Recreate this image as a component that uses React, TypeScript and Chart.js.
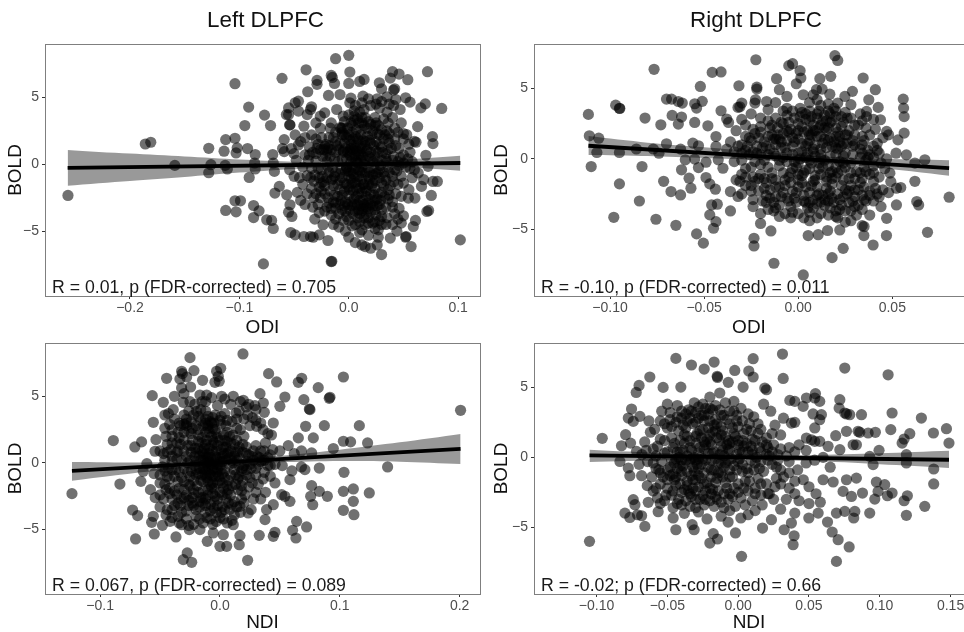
import React, { useEffect, useRef } from "react";
import { Chart, registerables } from "chart.js";

Chart.register(...registerables);

const leftOdiOuter: number[][] = [
[-.2567,-2.33],[-.186,1.52],[-.181,1.65],[-.159,-.08],[-.128,1.2],[-.126,-.03],[-.128,-.63],[-.114,.98],[-.1125,1.85],[-.113,-.08],[-.111,-.35],[-.104,6.03],[-.104,1.95],[-.102,1.23],[-.103,.85],[-.104,-2.73],[-.099,-2.73],[-.1125,-3.45],[-.103,-3.55],[-.0915,4.28],[-.095,2.9],[-.077,3.68],[-.0715,2.9],[-.0925,1.18],[-.0855,.73],[-.086,.1],[-.0855,-.35],[-.091,-.98],[-.087,-3.08],[-.082,-3.48],[-.087,-3.98],[-.075,-4.15],[-.0705,-4.2],[-.069,-4.8],[-.078,-7.45],[-.0695,.73],[-.069,.1],[-.068,-.53],[-.061,6.43],[-.0675,-2.15],[-.0635,-1.65],[-.0567,-2.28],[-.0537,-3.03],[-.055,-3.58],[-.052,-3.9],[-.053,-5.1],[-.049,-5.28],[-.059,1.85],[-.0605,1.18],[-.0537,2.95],[-.055,3.72],
[0,8.15],[-.012,7.9],[-.039,7.07],[.001,6.9],[-.016,6.65],[-.015,6.5],[.01,6.2],[.014,6.35],[-.013,6.05],[-.029,6.28],[-.029,5.98],[0,6.05],[.028,6.1],[.03,5.65],[.04,6.93],[.046,6.75],[.038,6.45],[.054,6.33],[.072,6.93],[-.0375,5.43],[-.0185,5.15],[-.008,5.22],[.042,5.65],[.041,5.55],[.002,4.95],[.013,5.1],[.026,4.9],[.035,5.05],[.043,4.85],[.052,4.98],[.056,4.65],[.066,4.22],[.07,4.52],[.085,4.18],[-.046,4.72],[-.049,4.6],[-.055,4.22],[-.046,3.98],[-.057,3.72],[-.034,4.3],[-.035,4.1],[-.038,3.72],[-.026,3.6],[-.022,3.85],[-.011,4.1],
[.063,2.82],[.0765,2.07],[.077,1.55],[.06,1.72],[.0615,1.65],[.053,2.22],[.0705,.68],[-.041,2.85],[-.054,2.95],[-.049,2.2],[-.0525,1.18],[-.059,.95],[-.046,1.45],[-.034,2.2],[-.026,2.7],[-.017,2.7],[-.006,2.7],
[.102,-5.65],[.0525,-5.4],[.052,-5.45],[.057,-6.15],[.03,-6.75],[.02,-6.28],[.015,-6.15],[.012,-6.03],[-.016,-7.28],[-.0155,-7.25],[-.019,-5.7],[-.027,-5.28],[-.0325,-5.45],[-.035,-5.4],[-.041,-5.4],[-.0235,-4.52],[-.031,-4.1],[0,-5.45],[.006,-5.85],[.026,-6.03],[.027,-5.45],[.038,-5.52],[.044,-5.0],[.059,-4.65],[.061,-4.2],[.05,-3.85],[.073,-3.45],[.0715,-3.53],[.077,-1.28],[.0665,-1.65],[.0605,-2.53],[.0545,-2.53],[.0755,-2.33],[.081,-1.28],[.0685,-1.15],[.0635,-.65],[.0725,-.15]
];
const leftOdiCore: number[][] = [
[-.045,-1.0],[-.038,-.85],[-.032,-1.25],[-.042,-.2],[-.03,.25],[-.04,.7],[-.036,1.3],[-.028,1.5],[-.022,1.35],[-.023,1.1],[-.018,1.4],[-.012,.9],[-.012,1.7],[-.006,2.2],[-.008,2.75],[-.004,1.6],[.001,1.0],[.004,1.9],[.003,2.9],[.008,3.4],[.012,2.6],[.015,1.7],[.017,1.1],[.011,.7],[.006,.3],[.003,-.2],[-.003,-.5],[.0,-.9],[-.008,-.7],[-.015,-.3],[-.02,.2],[-.025,-.4],[-.03,-2.2],[-.025,-2.0],[-.019,-2.5],[-.013,-2.3],[-.008,-3.0],[-.007,-2.7],[-.012,-3.3],[-.002,-1.5],[.004,-2.0],[.008,-1.3],[.012,-2.1],[.01,-2.7],[.016,-2.4],[.018,-1.5],[.022,-.8],[.024,-1.8],[.028,-1.0],[.03,.3],[.034,.8],[.036,1.1],[.03,1.3],[.025,1.7],[.022,2.5],[.027,2.9],[.032,3.4],[.035,2.5],[.042,2.7],[.048,3.1],[.042,1.9],[.046,1.2],[.05,.7],[.054,.4],[.058,.2],[.052,-.2],[.048,-.9],[.042,-.4],[.038,-1.6],[.043,-2.2],[.036,-2.6],[.03,-2.1],[.026,-3.1],[.02,-3.6],[.014,-4.0],[.009,-3.4],[.004,-3.7],[.0,-4.2],[-.005,-4.2],[-.012,-4.1],[-.016,-3.8],[.006,-4.5],[.015,-4.5],[.022,-4.4],[.028,-4.2],[.035,-4.0],[.042,-3.7],[.045,-4.1],[.01,-5.1],[.018,-5.3],[.027,-4.9],[.034,-4.5],[-.002,2.0],[.006,1.2],[.011,1.4],[.008,.1],[.014,.0],[.02,.4],[.018,-.3],[.01,-.5],[.005,-1.0],[-.002,.4],[-.005,.9],[-.01,.2],[-.017,.6],[-.02,-1.0],[-.027,-1.0],[-.032,-2.5],[-.038,-2.2],[-.042,-1.5],[-.028,-3.0],[-.02,-3.2],[.002,-2.8],[.005,-3.0],[.016,-3.2],[.024,-2.7],[.034,-1.2],[.04,.3],[.045,.2],[.018,3.2],[.014,4.1],[.006,4.4],[.001,4.6],[.02,4.4],[.028,4.2],[.035,3.9],[.041,4.4],[.047,4.1],[.024,3.5],[-.016,3.1],[-.03,3.1],
[-.021,1.5],[-.019,1.2],[-.02,1.0],[-.007,2.7],[-.006,2.4],[.0,2.2],[.002,1.5],[.005,1.4],[.007,1.0],[.009,1.8],[.012,1.2],[.015,1.4],[.013,.6],[.006,.7],[.002,.2],[.001,.7],[-.003,1.2],[-.006,.4],[-.009,1.1],[-.013,.4],[-.016,1.1],[-.024,.6],[-.03,.8],[-.034,-.3],[-.028,-.3],[-.024,-.9],[-.018,-.6],[-.013,-.9],[-.01,-1.5],[-.006,-1.0],[-.002,-.2],[.002,-.6],[.006,-.3],[.009,-.9],[.012,-.2],[.015,-.7],[.019,-1.1],[.023,-.3],[.026,.2],[.028,-.4],[.032,-.6],[.036,-.2],[.04,-.9],[.044,-.5],[.05,.1],[.056,-.3],[.035,.2],[.024,.6],[.02,.9],[.027,.9],[.032,1.9],[.037,1.6],[.02,1.6],[.017,2.1],[.011,2.2],[.007,2.6],[.002,3.1],[-.004,3.2],[-.012,2.4],[-.018,2.0],[-.025,2.0],[-.03,1.9],[.012,3.1],[.015,3.5],[.02,3.0],[.026,2.3],[.03,2.6],[.036,3.1],[.04,3.5],[.045,2.4],[.05,2.3],[.055,1.5],[.005,3.3],[.01,3.9],[.005,4.0],[.0,3.7],[-.005,3.6],[.012,4.6],[.018,4.9],[.025,4.5],[.03,4.7],[.037,4.5],[-.004,-2.0],[-.008,-1.9],[-.014,-1.6],[-.017,-2.0],[-.022,-1.6],[-.026,-2.5],[-.034,-1.8],[.0,-2.3],[.003,-1.4],[.007,-2.4],[.01,-1.8],[.014,-1.5],[.017,-2.9],[.02,-2.2],[.022,-1.4],[.027,-2.2],[.032,-1.6],[.036,-1.9],[.04,-2.8],[.045,-1.5],[.048,-2.4],[.05,-1.4],[.008,-3.0],[.012,-3.5],[.011,-3.1],[.006,-3.5],[.001,-3.4],[-.004,-3.1],[-.009,-3.7],[-.002,-3.9],[.018,-3.3],[.022,-3.1],[.025,-3.8],[.03,-3.4],[.034,-3.2],[.04,-3.2],[.046,-3.3],[.003,-4.6],[.01,-4.3],[.012,-4.9],[.018,-4.4],[.024,-4.8],[.03,-4.5],[.04,-4.5],[.048,-4.4],[-.009,-4.7],[-.003,-5.0],[-.014,-4.5],[-.022,-3.5],[-.027,-3.6],[-.033,-3.2],[-.04,-3.0],[-.044,-2.7],[-.047,-2.1],[-.05,-.9],[-.054,-.4],[-.048,.3],[-.05,.8],[-.044,1.7],[-.04,2.0],[-.037,.3],[.05,1.9],[.056,.9],[.06,-.4],[.058,-1.0],[.055,-1.9]
];
const leftOdiDense: number[][] = [
[.001,1.8],[.004,1.1],[.008,1.9],[.01,1.0],[.013,1.8],[.016,1.0],[.019,1.8],[.003,2.4],[.006,2.1],[-.001,2.7],[-.004,2.2],[-.008,1.6],[-.005,1.0],[-.001,.9],[.003,.5],[.007,.2],[.011,.3],[.015,.3],[.018,.6],[.022,.2],[.025,1.0],[.023,1.4],[.028,1.5],[.031,.9],[-.002,-.3],[.002,-1.1],[.006,-1.4],[.009,-.4],[.012,-1.1],[.015,-1.8],[.018,-.9],[.021,-1.6],[.024,-1.2],[.027,-.6],[.03,-1.4],[.033,-.9],[.037,-.6],[.041,-1.3],[-.004,-1.4],[-.008,-1.2],[-.012,-.6],[-.016,-1.2],[-.019,-.2],[-.023,-1.3],[-.027,-1.7],[-.031,-.8],[-.035,-1.0],[-.022,-2.2],[-.018,-2.9],[-.014,-2.8],[-.01,-2.4],[-.006,-2.3],[-.003,-2.8],[.001,-1.9],[.005,-2.6],[.009,-2.2],[.013,-2.7],[.016,-2.0],[.019,-2.6],[.023,-2.3],[.026,-2.6],[.029,-2.7],[.033,-2.4],[.037,-2.3],[.013,-3.3],[.016,-3.7],[.02,-3.0],[.024,-3.4],[.028,-3.0],[.003,-3.1],[-.001,-3.0],[-.006,-3.4],[-.012,-2.9],[-.016,-3.3],[.005,3.6],[.009,3.1],[.014,2.9],[.017,2.7],[.021,2.2],[.024,2.9],[.028,2.2],[.033,2.2],[.037,2.3],[.039,1.2],[.043,1.4],[.047,.5],[.046,-.1],[.041,.6],[.034,.4],[.029,-.1],[-.011,1.4],[-.014,2.0],[-.021,.6],[-.026,1.1],[-.029,1.2],[-.033,.9],[-.036,.7],[-.025,-1.4],[-.015,-1.1],[-.007,-.4],[.0,-.5],[.004,-.7],[.009,.7],[.002,1.2],[.012,-.6],[.019,-.6],[.025,-.7],[.013,-1.5],[.007,-1.8],[.0,-1.7],[.01,-3.7],[.014,-3.0],[-.003,-3.5],[.036,1.9],[.025,3.1],[.012,3.5],[.008,-4.0],[.018,-4.0],[.03,-3.9],[.024,-4.3]
];

const rightOdiOuter: number[][] = [
[-.1115,3.16],[-.111,1.64],[-.106,1.47],[-.107,.45],[-.11,-.55],[-.097,3.82],[-.095,3.6],[-.0948,3.58],[-.095,.45],[-.095,-1.78],[-.098,-4.16],[-.0814,2.9],[-.086,.7],[-.083,-.55],[-.0844,-3.0],[-.0766,6.37],[-.073,2.42],[-.077,.7],[-.074,.4],[-.07,1.07],[-.0715,-1.6],[-.0756,-4.3],[-.07,4.25],[-.0673,4.25],[-.067,3.09],[-.0637,4.08],[-.0616,3.97],[-.062,2.97],[-.0637,2.47],[-.0676,-2.33],[-.0625,-2.57],[-.065,-4.73],[-.0625,.69],[-.06,-.07],[-.062,-.78],[-.058,-1.38],[-.057,-2.09],[-.055,3.92],[-.054,3.61],[-.051,4.09],[-.052,5.15],[-.055,2.59],[-.048,2.35],[-.056,1.12],[-.053,.93],[-.055,-.02],[-.053,-.62],[-.049,-.24],[-.049,-1.33],[-.047,-1.78],[-.044,-2.16],[-.054,-5.34],[-.0504,-6.0],[-.0457,6.15],[-.041,6.18],[-.041,3.42],[-.038,2.83],[-.037,2.59],[-.0437,1.59],[-.0437,.88],[-.038,.69],[-.0425,-.07],[-.04,-.67],[-.036,-2.33],[-.032,-2.68],[-.043,-3.23],[-.046,-3.28],[-.047,-3.99],[-.0437,-4.47],[-.045,-4.94],[-.036,-3.71],[-.0315,5.2],[-.0225,7.05],[-.022,5.1],[-.022,4.96],[-.0227,4.2],[-.023,3.97],[-.0115,5.7],[-.01,4.92],[-.0168,4.08],[-.031,3.7],[-.03,3.97],[-.032,3.66],[-.005,6.63],[-.003,6.77],[.001,6.27],[.0014,5.75],[-.001,5.34],[-.006,4.44],[.0027,4.56],[.008,4.56],[.0115,5.7],[.0173,5.87],[.0345,5.75],[.0195,7.34],[.021,7.0],[.0097,4.92],[.0127,4.96],[.0168,4.6],[.021,3.97],[.0248,4.44],[.0288,4.8],[.028,3.85],[.041,4.92],[.0375,4.2],[.0425,3.66],[.0363,3.37],[.0437,2.78],[.0363,3.0],[.0558,4.25],[.056,3.61],[.0563,3.0],[.0563,1.83],[.047,1.95],[.048,1.71],[.053,1.35],[.052,.4],[.0575,.28],[.062,-.3],[.0673,-.07],[.062,-1.6],[.063,-3.04],[.064,-3.28],[.0687,-5.23],[.0802,-2.73],[.0487,-1.02],[.0492,-1.62],[.0522,-2.09],[.0545,-2.04],[.0522,-3.28],[.047,-4.23],[.0469,-5.46],[.0398,-6.13],[.0349,-5.46],[.034,-4.75],[.035,-4.82],[.0239,-6.37],[.018,-7.03],[.0221,-5.06],[.0156,-5.1],[.0106,-5.4],[.0053,-5.46],[.0027,-8.26],[-.0129,-7.43],[-.0145,-5.13],[-.0235,-5.65],[-.0235,-6.2],[-.02,-4.6]
];
const rightOdiCore: number[][] = [
[-.03,1.0],[-.028,1.6],[-.025,1.3],[-.022,.9],[-.023,1.8],[-.018,1.2],[-.014,1.7],[-.012,1.0],[-.015,.7],[-.011,1.7],[-.008,2.5],[-.012,2.9],[-.016,2.7],[-.004,2.1],[-.003,3.4],[-.006,3.6],[.001,3.0],[.003,1.9],[.006,1.3],[.004,.9],[.008,2.4],[.01,2.9],[.012,1.6],[.014,3.1],[.017,3.2],[.016,2.2],[.019,1.2],[.021,.7],[.021,1.9],[.024,2.6],[.026,1.1],[.029,.3],[.03,1.7],[.034,.4],[.037,.6],[.04,.9],[.04,.1],[.044,-.3],[.047,.0],[.035,-.6],[.031,-.9],[.027,-1.4],[.025,-.6],[.018,-.9],[.013,-.6],[.009,-1.2],[.004,-.8],[.0,-1.1],[-.003,-.7],[-.008,-1.0],[-.012,-1.5],[-.016,-.6],[-.02,-1.1],[-.023,-.2],[-.026,.3],[-.03,-.1],[-.034,.5],[-.033,-1.5],[-.031,-1.6],[-.025,-1.9],[-.023,-1.6],[-.021,-2.3],[-.015,-2.2],[-.012,-2.7],[-.007,-1.9],[-.003,-2.3],[.002,-1.7],[.006,-2.4],[.01,-2.0],[.013,-2.6],[.018,-1.8],[.021,-2.5],[.025,-2.2],[.03,-2.7],[.034,-1.4],[.038,-2.3],[.04,-1.6],[.043,-2.7],[.036,-3.0],[.032,-3.3],[.027,-3.1],[.023,-3.3],[.02,-3.7],[.016,-3.0],[.01,-3.2],[.005,-3.5],[-.001,-3.1],[-.004,-3.4],[-.007,-3.9],[-.004,-4.2],[-.01,-4.1],[-.013,-3.7],[-.017,-3.1],[-.02,-3.9],[-.024,-3.4],[.003,-4.2],[.006,-4.4],[.01,-4.2],[.016,-4.0],[.021,-4.2],[.025,-4.5],[.028,-4.4],[.031,-4.0],[.034,-3.6],[.038,-4.0],[.044,-3.4],[.012,-3.9],[.0,-.3],[.006,-.1],[.012,.3],[.017,.2],[.022,-.2],[-.006,.4],[-.01,-.1],[-.016,.3],[.002,.5],[.025,3.3],[.03,2.4],[.034,2.7],[.038,1.7],[.041,2.1],[.045,1.5],[.027,2.0],[.019,3.6],[.012,3.8],[.006,3.4],[-.012,4.0],[-.006,3.1],[-.02,2.9],[-.025,3.2],[-.028,2.4],[-.033,2.0],[-.036,1.2],[-.03,2.8],
[-.013,1.4],[-.016,1.6],[-.019,.8],[-.009,.8],[-.006,1.3],[-.003,.9],[-.005,1.9],[.0,1.4],[.002,2.3],[.005,2.0],[.007,1.7],[.009,1.0],[.011,2.2],[.013,1.1],[.015,.8],[.017,1.5],[.018,2.7],[.02,1.6],[.022,1.2],[.023,.9],[.025,1.7],[.013,2.7],[.015,2.0],[.009,2.0],[.006,2.7],[.0,2.5],[-.002,1.2],[-.027,.9],[-.024,.5],[-.03,.4],[-.02,.3],[-.013,.4],[-.008,.1],[-.003,.3],[.001,.0],[.005,.4],[.009,.2],[.014,-.1],[.02,.3],[.024,.2],[.028,-.3],[.033,.1],[.036,-.1],[.04,-.5],[.043,.4],[-.025,-.6],[-.02,-.4],[-.014,-1.0],[-.01,-.5],[-.005,-1.3],[-.001,-.6],[.002,-1.2],[.006,-.7],[.011,-.7],[.015,-1.3],[.02,-1.3],[.023,-.8],[.028,-1.0],[.033,-1.0],[.038,-1.1],[.043,-1.3],[.046,-.7],[-.028,-1.3],[-.024,-1.3],[-.017,-1.7],[-.012,-2.0],[-.008,-2.4],[-.004,-1.7],[0,-2.0],[.004,-2.0],[.008,-1.6],[.011,-2.5],[.015,-1.6],[.017,-2.3],[.023,-1.9],[.028,-1.9],[.032,-2.2],[.035,-2.0],[.041,-2.1],[.045,-2.2],[.048,-2.4],[-.017,-2.6],[-.013,-3.1],[-.006,-2.8],[-.002,-2.8],[.003,-2.6],[.008,-2.9],[.012,-3.1],[.018,-2.8],[.024,-2.7],[.029,-3.0],[.034,-2.6],[.04,-3.0],[.006,-3.8],[.014,-3.3],[.022,-3.6],[.028,-3.7],[-.01,-3.3],[-.016,-3.6],[.0,-3.9],[.004,-3.1],[.016,-2.5],[-.006,2.0],[-.009,1.2],[-.011,2.2],[-.015,2.2],[-.02,2.3],[-.024,2.1],[.004,3.2],[.007,3.0],[.011,3.4],[.016,3.4],[.02,3.0],[.023,3.0],[.028,2.9],[.034,1.6],[.036,2.2],[.04,2.8],[.033,3.2],[.03,1.0],[.034,1.0],[.038,.3],[.042,1.1],[.01,4.2],[.016,3.9],[.006,4.0],[.001,3.6],[-.008,3.4],[-.016,3.5]
];
const rightOdiDense: number[][] = [
[-.026,1.5],[-.021,1.5],[-.017,.9],[-.01,1.4],[-.007,.8],[-.001,1.8],[.002,1.1],[.006,1.7],[.008,.7],[.01,1.6],[.012,.7],[.014,2.2],[.016,1.3],[.018,.9],[.02,2.2],[.022,1.6],[.024,1.1],[.02,.8],[.017,2.6],[.012,2.4],[.008,2.0],[.004,2.8],[-.002,2.9],[-.005,2.6],[-.009,2.6],[-.014,2.4],[-.02,1.9],[-.004,-1.0],[.0,-1.5],[.003,-1.0],[.007,-1.9],[.009,-1.5],[.012,-1.1],[.015,-2.1],[.018,-1.4],[.021,-1.0],[.024,-1.5],[.027,-2.3],[.03,-1.4],[.033,-1.7],[.036,-.9],[.04,-1.0],[-.007,-1.5],[-.01,-2.0],[-.014,-1.4],[-.018,-2.1],[-.021,-1.4],[-.025,-2.3],[-.028,-1.9],[-.03,-2.5],[-.024,-2.9],[-.019,-3.0],[-.015,-2.8],[-.009,-2.7],[-.005,-3.0],[-.001,-2.4],[.003,-3.0],[.006,-3.1],[.01,-2.6],[.014,-2.9],[.019,-3.1],[.022,-2.9],[.026,-2.5],[.03,-2.2],[.035,-2.9],[.038,-2.6],[.042,-2.5],[.017,-3.5],[.008,-3.5],[.02,-4.1],[.025,-3.7],[.03,-3.4],[-.003,-3.8],[-.012,-3.5],[.0,.4],[.004,.1],[.008,.5],[.012,.0],[.016,-.5],[.02,-.6],[.025,.4],[.029,.9],[.033,.7],[.037,.1],[.042,.6],[-.002,-.2],[-.006,-.2],[-.012,.2],[-.018,-.1],[-.022,.4],[-.028,.6],[-.034,-.2],[-.032,.9],[-.028,-.7],[-.03,-1.1],[-.018,-1.4],[.026,1.7],[.029,1.3],[.032,2.4],[.035,1.3],[.023,2.3],[.026,2.9],[.014,1.4],[.005,1.1],[.0,2.0],[.01,3.2],[.015,2.7],[.02,3.4],[.002,3.3],[-.003,1.5],[-.008,1.8],[-.012,1.4],[.007,-.3],[.011,-.3],[.017,-1.0],[.024,-.3]
];

const leftNdiOuter: number[][] = [
[-.1235,-2.3],[-.089,1.68],[-.0835,-1.58],[-.071,1.2],[-.0654,1.58],[-.0729,-3.53],[-.0687,-3.95],[-.0704,-5.7],[-.066,-1.38],[-.064,-.63],[-.061,-.05],[-.0556,-4.0],[-.057,-4.45],[-.048,-4.68],[-.0548,-5.33],[-.0367,-5.55],[-.0565,5.05],[-.0473,4.55],[-.0556,3.05],[-.0542,.88],[-.0534,1.75],[-.0445,6.35],[-.032,6.88],[-.0314,6.7],[-.0334,6.3],[-.0278,6.45],[-.032,5.63],[-.0245,5.7],[-.0217,6.93],[-.025,7.9],[-.0145,6.2],[-.0028,6.88],[.0006,7.1],[-.0014,6.5],[-.0006,6.13],[-.0042,6.05],[.0192,8.18],[.0406,6.7],[.0473,6.08],[.0654,6.05],[.0682,6.35],[.082,5.65],[.0918,4.93],[.0912,4.85],[.103,6.45],[.0334,5.2],[.0542,4.95],[.07,4.75],[.0746,4.05],[.0751,4.0],[.1163,2.8],[.103,1.63],[.109,1.58],[.1232,1.5],[.0946,1.08],[.0871,2.8],[.0715,2.75],[.0779,1.88],[.0654,1.88],[.2008,3.95],[.1399,-.3],[.1035,-.7],[.103,-2.13],[.1113,-1.95],[.1246,-2.25],[.1113,-2.88],[.103,-3.55],[.1118,-3.88],[.0896,-2.5],[.0829,-2.13],[.0765,-1.7],[.0757,-2.5],[.0774,-3.13],[.0829,-.38],[.0709,-.5],[.0765,.75],[.064,-4.38],[.0723,-4.8],[.0606,-5.05],[.0634,-5.63],[.0459,-5.2],[.0445,-5.5],[.0376,-4.25],[.0328,-5.43],[.0515,-2.38],[.0542,-2.5],[.0584,-2.88],[.0445,-3.13],[.0389,-3.5],[.0584,-1.25],[.0459,-1.5],[.0231,-7.3],[.0161,-6.13],[.0167,-5.45],[.0056,-6.25],[0,-6.25],[-.0106,-5.88],[.0028,-5.38],[-.0056,-5.25],[-.0236,-7.45],[-.0306,-7.25],[-.0273,-6.75],[-.0167,-5],[-.0256,-5],[-.032,-4.63],[-.0417,-4.38],[.0111,-4.63],[.0236,-3.75],[.0167,-3.25]
];
const leftNdiCore: number[][] = [
[-.0167,5.1],[-.0111,5.1],[.0014,5.0],[.0111,5.0],[.0195,4.7],[.0292,4.3],[.0362,4.5],[.05,4.25],[.0445,3.0],[.0306,2.75],[.0134,3.75],[-.0195,3.88],[-.039,4.0],[-.0306,4.55],[-.046,3.6],[-.042,2.9],[-.038,3.3],[-.03,3.6],[-.024,3.1],[-.018,3.5],[-.012,3.9],[-.006,3.4],[-.002,4.3],[.004,3.7],[.009,4.4],[.016,3.9],[.023,3.6],[.03,4.0],[.037,3.8],[-.01,2.8],[-.004,2.5],[.001,2.9],[.006,2.3],[.014,2.6],[.02,2.0],[.03,1.3],[.038,1.5],[.044,1.0],[.05,.9],[.057,1.3],[.062,.7],[.068,.9],[-.045,2.0],[-.04,1.5],[-.035,2.3],[-.03,1.7],[-.024,2.2],[-.018,1.6],[-.012,2.3],[-.007,1.3],[-.002,1.9],[.003,1.2],[.009,1.5],[.015,.9],[.022,1.2],[.027,.5],[.034,.9],[.04,.4],[.046,-.1],[.052,-.2],[.06,-.6],[.068,-.3],[-.05,.9],[-.046,.2],[-.041,1.0],[-.036,.3],[-.03,.9],[-.025,.2],[-.02,.8],[-.014,.2],[-.009,.7],[-.004,.1],[.002,.5],[.008,-.1],[.014,.2],[.02,-.2],[.026,-.4],[.032,-.1],[.037,-.7],[-.055,-.8],[-.05,-1.5],[-.046,-.6],[-.042,-1.2],[-.037,-.5],[-.032,-1.1],[-.027,-.7],[-.022,-1.3],[-.017,-.4],[-.012,-.9],[-.006,-.5],[-.01,-1.4],[-.004,-1.0],[.002,-.8],[.007,-1.3],[.013,-.9],[.019,-1.3],[.025,-1.1],[.032,-1.6],[.038,-2.2],[-.058,-2.0],[-.05,-2.4],[-.045,-2.0],[-.04,-2.7],[-.034,-1.9],[-.028,-2.4],[-.022,-2.0],[-.016,-2.6],[-.01,-2.0],[-.004,-2.5],[.003,-1.9],[.009,-2.4],[.015,-2.0],[.021,-2.4],[.028,-2.7],[-.05,-3.3],[-.044,-3.5],[-.038,-3.2],[-.032,-3.7],[-.026,-3.2],[-.02,-3.5],[-.014,-3.0],[-.008,-3.6],[-.002,-3.2],[.004,-3.5],[.01,-3.1],[.017,-3.7],[-.04,-4.1],[-.034,-4.5],[-.028,-4.2],[-.022,-4.6],[-.017,-4.2],[-.011,-4.1],[-.006,-4.6],[0,-4.1],[.006,-4.5],[-.012,3.0],[-.02,2.8],[-.028,2.8],[-.015,.9],[-.008,-.1],[-.012,.4],[-.005,-.4],[-.015,-.9],[.025,2.8],[.012,1.4],[.018,-.6],[-.03,5.2],[-.025,4.6],[-.015,4.6],[-.038,5.0],
[-.034,1.9],[-.03,2.3],[-.027,1.3],[-.023,1.7],[-.021,1.1],[-.018,2.1],[-.015,1.5],[-.013,1.1],[-.011,1.7],[-.009,2.3],[-.007,2.0],[-.005,1.5],[-.003,.9],[-.002,1.3],[.001,1.0],[.004,1.7],[.006,.7],[.009,.9],[.012,.5],[.016,.4],[.019,.8],[.024,.6],[.028,.9],[.033,.4],[.037,.9],[.042,.6],[-.044,.8],[-.04,.1],[-.035,.9],[-.032,.2],[-.028,.5],[-.024,.8],[-.02,.1],[-.017,.5],[-.014,.7],[-.011,.0],[-.008,.4],[-.006,.9],[-.003,.4],[.0,.1],[.003,.7],[.005,.2],[.008,.4],[.011,.0],[.016,-.2],[.023,.1],[.03,-.4],[.035,.2],[.042,-.2],[-.048,-.3],[-.044,-1.0],[-.04,-.5],[-.035,-1.4],[-.03,-.4],[-.025,-1.0],[-.02,-.5],[-.016,-1.3],[-.013,-.5],[-.01,-.3],[-.008,-.9],[-.006,-1.5],[-.002,-.5],[.0,-1.3],[.004,-.6],[.006,-1.7],[.009,-.9],[.012,-.5],[.015,-1.2],[.018,-1.7],[.022,-.9],[.027,-1.5],[.03,-.9],[.036,-1.2],[.042,-1.0],[-.054,-2.6],[-.047,-2.7],[-.042,-1.9],[-.038,-2.1],[-.032,-2.7],[-.03,-2.0],[-.025,-1.7],[-.023,-2.6],[-.019,-1.7],[-.014,-2.1],[-.012,-2.7],[-.007,-1.8],[-.005,-2.9],[.0,-2.2],[.005,-2.7],[.007,-2.0],[.012,-2.9],[.018,-2.1],[.024,-1.8],[.03,-2.2],[.034,-2.7],[-.045,-3.9],[-.035,-3.0],[-.028,-3.6],[-.023,-3.0],[-.017,-3.3],[-.012,-3.7],[-.005,-3.4],[.001,-3.7],[.007,-3.0],[.012,-3.9],[.02,-3.0],[.026,-3.5],[-.026,-4.7],[-.02,-4.0],[-.014,-4.5],[-.008,-4.2],[-.003,-4.4],[.003,-4.2],[.01,-4.3],[-.035,-4.0],[-.046,2.6],[-.04,2.5],[-.036,1.5],[-.043,3.7],[-.034,3.0],[-.028,3.3],[-.026,3.9],[-.021,4.4],[-.016,4.0],[-.012,3.3],[-.008,3.1],[-.006,2.6],[-.004,3.6],[.001,3.5],[.006,3.2],[.01,3.1],[.014,3.3],[.017,4.6],[.02,3.3],[.024,4.4],[.027,3.4],[.034,3.0],[.04,2.2],[.043,2.1],[-.012,4.6],[-.007,4.9],[.004,4.8],[.022,4.2],[.03,3.2],[.036,2.5]
];
const leftNdiDense: number[][] = [
[-.016,.2],[-.013,-.1],[-.01,.4],[-.008,.0],[-.006,-.2],[-.004,.5],[-.002,-.1],[0,.4],[.002,.1],[-.012,-.6],[-.009,-.8],[-.006,-1.0],[-.003,-.7],[-.001,-1.0],[.001,-.5],[.004,-1.1],[-.014,-1.4],[-.011,-1.1],[-.008,-1.6],[-.005,-1.9],[-.002,-1.5],[.002,-1.5],[-.018,-.8],[-.021,-.2],[-.024,-.6],[-.027,.0],[-.024,1.3],[-.021,.5],[-.018,1.1],[-.015,1.9],[-.012,1.4],[-.009,1.1],[-.006,1.7],[-.003,2.2],[0,1.7],[.003,2.1],[-.01,2.6],[-.007,3.0],[-.014,2.8],[-.018,2.5],[-.023,2.6],[-.026,2.4],[-.03,2.9],[-.033,1.4],[-.036,.8],[-.04,.5],[-.043,-.4],[-.038,-1.0],[-.034,-.7],[-.03,-1.4],[-.026,-1.6],[-.022,-2.3],[-.018,-2.2],[-.014,-2.6],[-.01,-2.4],[-.006,-2.3],[-.002,-2.7],[.002,-2.4],[.006,-2.3],[.01,-1.7],[.013,-1.6],[.016,-1.0],[.019,-.4],[.022,-.5],[.025,-.1],[.028,.2],[.031,.5],[.034,.1],[.037,.2],[.04,-.2],[.01,.2],[.013,.8],[.016,1.2],[.019,1.4],[.022,.7],[.007,.8],[.005,1.2],[.006,1.6],[.008,2.0],[.011,2.1],[.014,1.7],[.017,2.5],[-.03,-2.6],[-.026,-2.8],[-.022,-3.2],[-.017,-2.9],[-.012,-3.2],[-.008,-3.1],[-.003,-3.7],[.002,-3.3],[.008,-3.5],[.014,-3.3],[.018,-2.7],[-.033,-3.2],[-.04,-3.5],[-.036,-2.4],[-.042,-2.3],[-.046,-1.6],[-.05,-.9],[-.047,.7],[-.044,1.4],[-.04,2.0],[-.033,2.8],[-.028,3.0],[-.022,3.6],[-.016,3.2],[-.01,3.5],[-.005,3.0],[.0,3.2],[.005,2.8],[-.02,-.9],[-.014,-.4],[.0,-.2],[-.012,.7],[-.009,.1]
];

const rightNdiOuter: number[][] = [
[-.105,-6.0],[-.096,1.36],[-.044,7.07],[-.033,6.6],[-.024,6.31],[-.017,6.81],[-.0024,6.21],[.0075,6.17],[.0106,7.05],[.0313,7.38],[.0318,5.64],[-.0624,5.74],[-.07,5.14],[-.072,4.64],[-.053,5.0],[-.0405,5.02],[-.0148,5.79],[-.0146,5.71],[-.007,5.36],[.0106,5.74],[.0035,5.02],[.0188,4.95],[.02,4.83],[.0753,6.38],[.1059,5.9],[-.0753,3.45],[-.0776,2.81],[-.0741,2.57],[-.0694,2.93],[-.0795,1.62],[-.076,1.02],[-.0824,.83],[-.0718,.43],[-.0835,-.29],[-.0776,-.76],[-.0765,-1.31],[-.0682,-1.31],[-.0642,-2.02],[-.0635,-3.21],[-.0741,-3.02],[-.0729,-3.38],[-.08,-3.98],[-.0765,-4.29],[-.0711,-4.1],[-.0682,-4.17],[-.0659,-4.93],[-.0565,-3.88],[-.0459,-4.33],[-.044,-5.17],[-.0325,-4.81],[-.0311,-5.17],[-.0176,-5.45],[-.0146,-5.83],[-.02,-6.12],[-.0019,-5.4],[.0019,-4.33],[.0024,-7.07],[-.0071,-4.62],[.0172,-5.05],[.0235,-4.45],[.0325,-5.17],[.0376,-4.69],[.0395,-5.6],[.0388,-6.24],[.0631,-4.62],[.0664,-5.33],[.0706,-5.88],[.0784,-6.4],[.0694,-7.43],[.0499,-4.33],[.0565,-3.98],[.04,-3.98],[.0694,-3.98],[.0753,-3.86],[.0824,-3.86],[.0816,-4.33],[.0929,-3.98],[.0965,-2.98],[.0878,-2.55],[.08,-2.79],[.0741,-2.43],[.0835,-1.48],[.0765,-1.6],[.0671,-1.76],[.0976,-1.76],[.0988,-2.43],[.1035,-1.95],[.1054,-2.74],[.1087,-2.55],[.1172,-3.1],[.1195,-2.74],[.1188,-4.14],[.1318,-3.5],[.1381,-1.9],[.1381,-.83],[.1188,-.4],[.1188,.19],[.0995,.5],[.0929,.07],[.0953,-.52],[.1489,1.02],[.1471,2.05],[.1379,1.74],[.1294,2.81],[.1212,1.69],[.1172,1.31],[.1158,1.02],[.1087,3.17],[.1078,1.98],[.0871,3.05],[.0788,3.05],[.0765,3.1],[.0718,4.12],[.0713,3.52],[.0753,3.17],[.0969,1.79],[.0918,1.74],[.0847,1.86],[.0859,1.79],[.0835,.9],[.0812,.9],[.0689,1.55],[.0635,.79],[.0718,.55],[.0765,1.86],[.0546,4.55],[.0482,4.24],[.0576,4.0],[.0459,3.64],[.0541,4.24],[.0365,4.07],[.04,4.0],[.0529,3.1],[.0588,3.05],[.0576,2.69],[.0541,2.1],[.04,2.5],[.0376,2.45],[.0518,1.26],[.0541,1.14],[.0576,1.14],[.0482,1.38]
];
const rightNdiCore: number[][] = [
[-.064,-.3],[-.06,.6],[-.055,1.3],[-.05,2.1],[-.055,2.6],[-.048,3.2],[-.043,3.7],[-.04,2.8],[-.045,1.0],[-.052,.3],[-.058,-.8],[-.053,-1.4],[-.048,-.7],[-.044,-.1],[-.039,.5],[-.034,1.2],[-.037,2.1],[-.033,3.3],[-.028,3.6],[-.03,2.5],[-.025,2.0],[-.02,2.6],[-.016,1.9],[-.012,3.0],[-.018,3.4],[-.02,4.3],[-.013,4.6],[-.009,3.9],[-.003,4.0],[.002,3.5],[.007,3.1],[.006,2.0],[.011,2.9],[.014,1.7],[.018,3.8],[.023,3.3],[.026,2.3],[.03,1.6],[.025,.9],[.02,.2],[.015,.7],[.01,.5],[.004,.8],[-.002,1.5],[-.007,1.2],[-.006,.5],[-.012,.8],[-.018,.3],[-.023,.9],[-.028,.3],[-.033,.5],[-.039,-.6],[-.034,-.3],[-.028,-.8],[-.023,-.2],[-.017,-.9],[-.012,-.4],[-.006,-.9],[0,-.3],[.006,-.8],[.012,-.4],[.018,-1.0],[.024,-.5],[.03,-.9],[.036,-.3],[.042,-.9],[.048,-.4],[.054,-.2],[.06,.0],[.065,-.7],[.036,.7],[.043,.9],[.048,.5],[.032,2.8],[-.05,-2.2],[-.047,-2.7],[-.044,-2.0],[-.04,-2.5],[-.043,-3.3],[-.037,-3.1],[-.032,-2.2],[-.03,-1.6],[-.025,-2.7],[-.022,-1.8],[-.02,-3.1],[-.015,-1.5],[-.014,-2.4],[-.009,-1.8],[-.007,-3.0],[-.003,-2.2],[.002,-2.9],[.005,-1.7],[.01,-3.1],[.012,-2.2],[.017,-3.4],[.02,-1.9],[.025,-3.0],[.03,-1.9],[.034,-3.0],[.04,-1.7],[.043,-3.1],[.046,-1.6],[.05,-2.1],[.055,-2.6],[.06,-1.6],[.058,-3.2],[.05,-3.3],[-.055,-3.3],[-.038,-4.0],[-.028,-3.9],[-.022,-4.4],[-.012,-4.2],[-.006,-3.8],[.007,-4.1],[.012,-3.8],[.03,-3.7],[-.026,1.4],[-.03,1.0],[-.02,1.6],[-.013,1.2],[-.016,-.1],[-.01,.1],[-.024,-1.1],[-.033,-1.3],[-.042,1.9],[-.048,2.7],[-.037,3.1],[.0,.9],[.001,.5],[-.001,2.6],[.016,.4],[.022,.1],[.028,.2],[-.018,-2.3],[-.03,-3.0],[-.035,-2.4],[-.04,-1.3],[-.046,-1.2],
[-.05,.4],[-.047,1.4],[-.043,.4],[-.041,1.2],[-.038,1.6],[-.036,.1],[-.031,.0],[-.029,1.7],[-.027,.7],[-.024,2.6],[-.022,1.3],[-.019,.9],[-.015,1.4],[-.011,1.9],[-.008,.9],[-.004,1.1],[-.001,.2],[.003,1.2],[.007,.4],[.01,1.3],[.013,.0],[.017,1.1],[.021,.7],[-.034,2.8],[-.03,3.2],[-.026,3.0],[-.023,3.5],[-.016,2.7],[-.012,2.2],[-.008,2.7],[-.004,2.1],[-.054,-.3],[-.05,-.9],[-.047,-.2],[-.043,-.8],[-.04,-.2],[-.036,-1.0],[-.032,-.7],[-.03,-.2],[-.026,-.5],[-.021,-.7],[-.019,-.2],[-.014,-1.1],[-.01,-.7],[-.007,-.2],[-.003,-.6],[.003,-.5],[.009,-.2],[.015,-.8],[.021,-.2],[.027,-.7],[-.055,-1.9],[-.05,-1.6],[-.045,-1.6],[-.041,-1.9],[-.036,-1.7],[-.033,-2.8],[-.028,-2.1],[-.026,-1.5],[-.023,-2.4],[-.019,-1.4],[-.016,-2.8],[-.011,-1.4],[-.012,-3.2],[-.006,-1.4],[-.004,-2.8],[.0,-1.9],[.007,-2.4],[.014,-1.5],[.016,-2.7],[.022,-2.6],[.027,-1.5],[.036,-2.2],[-.046,-3.6],[-.04,-3.4],[-.034,-3.5],[-.03,-3.6],[-.024,-3.4],[-.017,-3.5],[-.01,-3.6],[-.002,-3.5],[.005,-3.4],[-.044,2.5],[-.04,3.3],[-.036,2.6],[-.031,3.9],[-.025,3.8],[-.021,3.1],[-.016,3.7],[-.006,3.3],[-.001,3.0],[.003,2.6],[.009,1.9],[.014,2.4],[.02,1.4],[.024,1.7],[.03,.6],[.034,.1],[.04,.4],[-.058,.1],[-.062,1.8],[-.066,1.1],[-.068,.2],[-.061,-1.4],[-.057,-2.9],[-.07,-.5],[-.065,.5],[-.059,2.0],[-.063,2.6],[-.06,-2.4],[-.052,-3.1],[-.054,3.3],[-.05,3.8],[-.056,-.9]
];
const rightNdiDense: number[][] = [
[-.046,.7],[-.042,.0],[-.038,1.0],[-.034,.7],[-.03,1.5],[-.027,1.9],[-.024,1.1],[-.021,2.1],[-.018,1.8],[-.015,2.4],[-.012,1.6],[-.009,1.5],[-.006,1.0],[-.003,1.7],[0,1.2],[.003,.4],[.006,1.0],[.009,.8],[-.045,-.4],[-.041,-.6],[-.037,-.2],[-.033,-.1],[-.029,-.5],[-.025,-.1],[-.021,.3],[-.017,.4],[-.013,.2],[-.009,-.4],[-.005,-.1],[-.001,-.9],[.003,-1.0],[.007,-1.1],[.011,-.9],[-.048,-1.3],[-.044,-1.4],[-.04,-1.0],[-.036,-2.0],[-.032,-1.6],[-.028,-1.3],[-.024,-1.9],[-.02,-2.2],[-.016,-1.8],[-.012,-1.1],[-.008,-2.2],[-.004,-1.4],[0,-2.5],[.004,-2.2],[.008,-1.7],[.012,-2.6],[.016,-1.9],[-.051,-2.7],[-.046,-2.4],[-.042,-3.0],[-.038,-2.3],[-.034,-2.6],[-.03,-2.4],[-.027,-3.0],[-.023,-3.0],[-.019,-2.6],[-.015,-3.0],[-.01,-2.6],[-.006,-2.6],[-.047,2.2],[-.043,2.9],[-.039,2.3],[-.035,3.4],[-.032,2.4],[-.028,2.8],[-.024,3.0],[-.02,3.5],[-.017,2.3],[-.013,3.4],[-.01,3.0],[-.006,2.4],[-.003,3.3],[.0,2.2],[.004,1.7],[.008,2.4],[.012,1.2],[.016,2.0],[.02,.9],[.024,.4],[.028,-.2],[.032,-1.4],[.036,-1.1],[.026,-2.1],[.021,-2.6],[.04,-2.6],[.016,-.3],[-.052,1.2],[-.057,.8],[-.06,-.4],[-.055,-1.1],[-.058,-2.2],[-.052,2.4],[-.028,-.1],[-.024,.6],[-.019,-.9],[-.036,1.5],[-.041,.4],[-.031,-1.0],[-.02,1.1],[-.011,.5],[-.007,.6],[-.014,-.4],[.001,-.1],[.01,.2]
];

const leftOdiPoints = [...leftOdiOuter, ...leftOdiCore, ...leftOdiDense];
const rightOdiPoints = [...rightOdiOuter, ...rightOdiCore, ...rightOdiDense];
const leftNdiPoints = [...leftNdiOuter, ...leftNdiCore, ...leftNdiDense];
const rightNdiPoints = [...rightNdiOuter, ...rightNdiCore, ...rightNdiDense];

const leftOdiFit = { x: [-.257, .102], y: [-.27, .1] };
const rightOdiFit = { x: [-.1115, .0802], y: [.93, -.66] };
const leftNdiFit = { x: [-.1235, .2008], y: [-.6, 1.05] };
const rightNdiFit = { x: [-.105, .1489], y: [.14, -.17] };

const leftOdiBand = { x: [-.257, -.2, -.15, -.1, -.05, 0, .05, .102], upper: [1.08, .8, .58, .36, .2, .17, .36, .65], lower: [-1.6, -1.25, -.95, -.62, -.35, -.17, -.22, -.48] };
const rightOdiBand = { x: [-.1115, -.08, -.05, -.02, .01, .04, .0802], upper: [1.62, 1.15, .82, .5, .2, .02, -.1], lower: [.28, .2, .05, -.1, -.3, -.6, -1.2] };
const leftNdiBand = { x: [-.1235, -.05, 0, .05, .1, .15, .2008], upper: [.08, .05, .25, .55, 1.0, 1.55, 2.18], lower: [-1.33, -.55, -.15, .05, .15, .1, -.08] };
const rightNdiBand = { x: [-.105, -.05, 0, .05, .1, .1489], upper: [.55, .3, .22, .17, .3, .48], lower: [-.33, -.2, -.15, -.25, -.5, -.76] };

const leftOdiXTicks = [-.2, -.1, 0, .1];
const rightOdiXTicks = [-.1, -.05, 0, .05];
const leftNdiXTicks = [-.1, 0, .1, .2];
const rightNdiXTicks = [-.1, -.05, 0, .05, .1, .15];
const boldTicks = [-5, 0, 5];

const FONT = "'Liberation Sans', Arial, sans-serif";

type Panel = {
  box: { left: number; top: number; width: number; height: number };
  padRight: number; padTop: number;
  yWidth: number; xHeight: number; yTitlePad: number; xTitlePad: number;
  title?: string; xLabel: string; note: string;
  points: number[][];
  fit: { x: number[]; y: number[] };
  band: { x: number[]; upper: number[]; lower: number[] };
  xTicks: number[]; decimals: number;
  xRange: number[]; yRange: number[];
};

const panels: Panel[] = [
  { box: { left: 0, top: 0, width: 531, height: 337 }, padRight: 51, padTop: 0, yWidth: 45, xHeight: 41, yTitlePad: 6, xTitlePad: 2, title: "Left DLPFC", xLabel: "ODI", note: "R = 0.01, p (FDR-corrected) = 0.705", points: leftOdiPoints, fit: leftOdiFit, band: leftOdiBand, xTicks: leftOdiXTicks, decimals: 1, xRange: [-.2777, .12], yRange: [-9.85, 9.0] },
  { box: { left: 482, top: 0, width: 548, height: 337 }, padRight: 66, padTop: 0, yWidth: 52, xHeight: 41, yTitlePad: 10, xTitlePad: 2, title: "Right DLPFC", xLabel: "ODI", note: "R = -0.10, p (FDR-corrected) = 0.011", points: rightOdiPoints, fit: rightOdiFit, band: rightOdiBand, xTicks: rightOdiXTicks, decimals: 2, xRange: [-.1404, .0881], yRange: [-9.76, 8.17] },
  { box: { left: 0, top: 337, width: 500, height: 295 }, padRight: 20, padTop: 6, yWidth: 45, xHeight: 38, yTitlePad: 6, xTitlePad: 1, xLabel: "NDI", note: "R = 0.067, p (FDR-corrected) = 0.089", points: leftNdiPoints, fit: leftNdiFit, band: leftNdiBand, xTicks: leftNdiXTicks, decimals: 1, xRange: [-.146, .217], yRange: [-9.83, 9.0] },
  { box: { left: 482, top: 337, width: 500, height: 295 }, padRight: 18, padTop: 6, yWidth: 52, xHeight: 38, yTitlePad: 10, xTitlePad: 1, xLabel: "NDI", note: "R = -0.02; p (FDR-corrected) = 0.66", points: rightNdiPoints, fit: rightNdiFit, band: rightNdiBand, xTicks: rightNdiXTicks, decimals: 2, xRange: [-.1442, .1595], yRange: [-9.76, 8.17] },
];

const fmt = (v: number, d: number) => {
  const s = Math.abs(v).toFixed(d);
  return v < -1e-9 ? "\u2212" + s : s;
};

function makeChart(canvas: HTMLCanvasElement, p: Panel) {
  const frame = {
    id: "frameAndNote",
    afterDraw(chart: any) {
      const { ctx, chartArea: a } = chart;
      ctx.save();
      ctx.strokeStyle = "#7f7f7f";
      ctx.lineWidth = 1;
      ctx.strokeRect(Math.round(a.left) + 0.5, Math.round(a.top) + 0.5, Math.round(a.right - a.left), Math.round(a.bottom - a.top));
      ctx.fillStyle = "#1a1a1a";
      ctx.font = `17.7px ${FONT}`;
      ctx.textBaseline = "alphabetic";
      ctx.textAlign = "left";
      ctx.fillText(p.note, a.left + 7, a.bottom - 3);
      ctx.restore();
    },
  };
  return new Chart(canvas, {
    type: "scatter",
    data: {
      datasets: [
        { label: "Observations", data: p.points.map(([x, y]) => ({ x, y })), backgroundColor: "rgba(0,0,0,0.56)", borderWidth: 0, pointRadius: 5.6, order: 3 },
        { label: "CI upper", data: p.band.x.map((x, i) => ({ x, y: p.band.upper[i] })), showLine: true, pointRadius: 0, borderWidth: 0, borderColor: "transparent", backgroundColor: "rgba(0,0,0,0.4)", fill: "+1", tension: 0.3, order: 2 },
        { label: "CI lower", data: p.band.x.map((x, i) => ({ x, y: p.band.lower[i] })), showLine: true, pointRadius: 0, borderWidth: 0, borderColor: "transparent", fill: false, tension: 0.3, order: 2 },
        { label: "Fit", data: p.fit.x.map((x, i) => ({ x, y: p.fit.y[i] })), showLine: true, pointRadius: 0, borderWidth: 3.8, borderColor: "#000", fill: false, order: 1 },
      ],
    },
    options: {
      animation: false,
      responsive: false,
      layout: { padding: { top: p.padTop, right: 0, left: 0, bottom: 0 } },
      plugins: {
        legend: { display: false },
        tooltip: { enabled: false },
        title: p.title
          ? { display: true, text: p.title, color: "#111", font: { family: FONT, size: 22.4, lineHeight: 1, weight: "normal" }, padding: { top: 10, bottom: 11.6 } }
          : { display: false },
      },
      scales: {
        x: {
          type: "linear", min: p.xRange[0], max: p.xRange[1],
          afterBuildTicks: (s: any) => { s.ticks = p.xTicks.map((value) => ({ value })); },
          afterFit: (s: any) => { s.height = p.xHeight; s.paddingLeft = 0; s.paddingRight = p.padRight; },
          ticks: { color: "#4d4d4d", font: { family: FONT, size: 14 }, padding: 1, maxRotation: 0, autoSkip: false, callback: (v: any) => fmt(Number(v), p.decimals) },
          grid: { drawOnChartArea: false, drawTicks: true, tickLength: 3, tickColor: "#333", tickWidth: 1 },
          border: { display: false },
          title: { display: true, text: p.xLabel, color: "#111", font: { family: FONT, size: 19, lineHeight: 1 }, padding: { top: p.xTitlePad, bottom: 0 } },
        },
        y: {
          type: "linear", min: p.yRange[0], max: p.yRange[1],
          afterBuildTicks: (s: any) => { s.ticks = boldTicks.map((value) => ({ value })); },
          afterFit: (s: any) => { s.width = p.yWidth; s.paddingTop = 0; s.paddingBottom = 0; },
          ticks: { color: "#4d4d4d", font: { family: FONT, size: 14 }, padding: 3, autoSkip: false, callback: (v: any) => fmt(Number(v), 0) },
          grid: { drawOnChartArea: false, drawTicks: true, tickLength: 3, tickColor: "#333", tickWidth: 1 },
          border: { display: false },
          title: { display: true, text: "BOLD", color: "#111", font: { family: FONT, size: 19, lineHeight: 1 }, padding: { top: p.yTitlePad, bottom: 0 } },
        },
      },
    },
    plugins: [frame],
  } as any);
}

export default function App() {
  const refs = useRef<(HTMLCanvasElement | null)[]>([]);
  useEffect(() => {
    const charts = panels.map((p, i) => makeChart(refs.current[i] as HTMLCanvasElement, p));
    return () => charts.forEach((c) => c.destroy());
  }, []);
  return (
    <div style={{ position: "absolute", left: 0, top: 0, width: 964, height: 632, overflow: "hidden", background: "#fff" }}>
      {panels.map((p, i) => (
        <canvas
          key={i}
          ref={(el) => { refs.current[i] = el; }}
          width={p.box.width}
          height={p.box.height}
          style={{ position: "absolute", left: p.box.left, top: p.box.top, width: p.box.width, height: p.box.height, filter: "blur(0.4px)" }}
        />
      ))}
    </div>
  );
}
